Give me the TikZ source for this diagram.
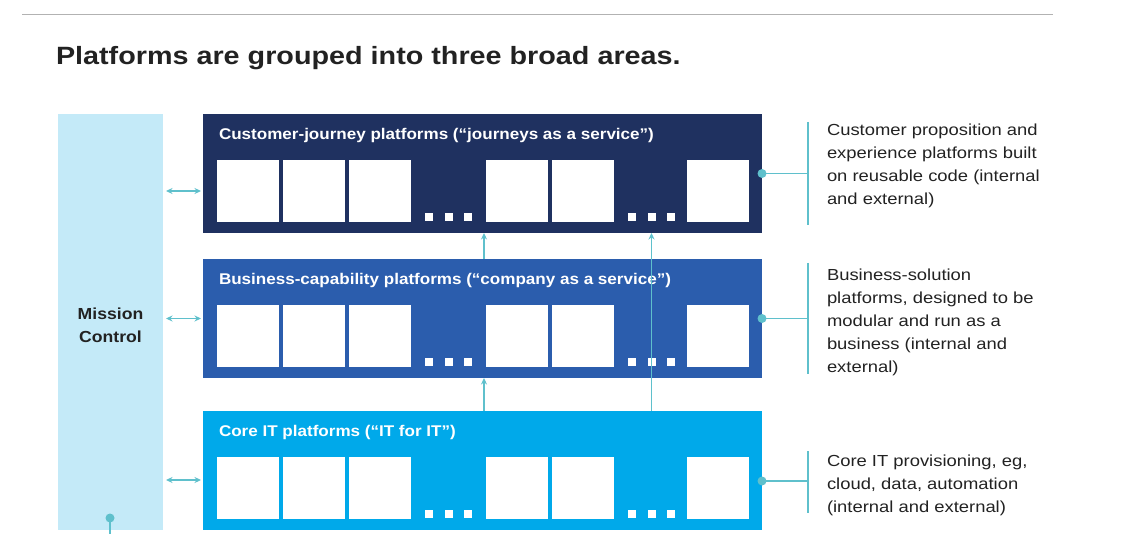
\documentclass[tikz,border=0pt]{standalone}
\usepackage{fontspec}
\setmainfont{Liberation Sans}[FakeStretch=1.15]
\newfontfamily\headfont{Liberation Sans}[FakeStretch=1.1]
\definecolor{NavyJ}{RGB}{31, 49, 96}
\definecolor{BlueB}{RGB}{43, 93, 173}
\definecolor{CyanC}{RGB}{0, 169, 234}
\definecolor{MissionBg}{RGB}{196, 234, 248}
\definecolor{Teal}{RGB}{95, 192, 204}
\definecolor{RuleGray}{RGB}{178, 178, 178}
\definecolor{TextGray}{RGB}{34, 34, 34}
\usetikzlibrary{arrows.meta, positioning}

\begin{document}
\begin{tikzpicture}[
    x=1pt, y=-1pt,
    every node/.style={inner sep=0pt, outer sep=0pt},
    layer/.style={minimum width=559pt, minimum height=119pt},
    ltitle/.style={anchor=west, text=white, font=\headfont\bfseries\fontsize{15.5}{18}\selectfont},
    slot/.style={fill=white, minimum size=62pt},
    dotsq/.style={fill=white, minimum size=8pt},
    descr/.style={anchor=north west, align=left, text=TextGray, font=\fontsize{16}{23}\selectfont},
    biarr/.style={{Stealth[length=6.5pt,width=6pt]}-{Stealth[length=6.5pt,width=6pt]}, Teal, line width=1.5pt},
    uparr/.style={-{Stealth[length=6.5pt,width=6pt]}, Teal, line width=1.5pt},
    brack/.style={Teal, line width=1.5pt}
]
\useasboundingbox (0,0) rectangle (1131,534);
\draw[RuleGray, line width=1pt] (22,15) -- (1053,15);
\node[anchor=base west, text=TextGray, font=\bfseries\fontsize{25}{30}\selectfont] (title) at (56,65) {Platforms are grouped into three broad areas.};

% mission control column
\node[fill=MissionBg, minimum width=105pt, minimum height=416pt] (mc) at (110.5,322) {};
\node[align=center, text=TextGray, font=\headfont\bfseries\fontsize{16}{23}\selectfont] (mct) at (110.5,325) {Mission\\Control};
\coordinate (mcb) at (110,534);
\fill[Teal] (110,518) circle (4.5pt);
\draw[brack] (110,518) -- (mcb);

% three layers
\node[layer, fill=NavyJ] (l1) at (482.5,173.5) {};
\node[layer, fill=BlueB] (l2) at (482.5,318.5) {};
\node[layer, fill=CyanC] (l3) at (482.5,470.5) {};
\node[ltitle] (l1t) at (219,135) {Customer-journey platforms (“journeys as a service”)};
\node[ltitle] (l2t) at (219,280) {Business-capability platforms (“company as a service”)};
\node[ltitle] (l3t) at (219,432) {Core IT platforms (“IT for IT”)};
\foreach \l/\t in {1/114, 2/259, 3/411} {
  \foreach \x [count=\i] in {248,314,380,517,583,718}
    \node[slot] (l\l b\i) at (\x,\t+77) {};
  \foreach \x [count=\i] in {429,449,468,632,651.5,671}
    \node[dotsq] (l\l d\i) at (\x,\t+103) {};
}

% links
\draw[biarr] ([xshift=3pt]mc.east |- l1b1) -- ([xshift=-2pt]l1.west |- l1b1);
\draw[biarr] ([xshift=3pt]mc.east |- l2) -- ([xshift=-2pt]l2.west);
\draw[biarr] ([xshift=3pt,yshift=-9.5pt]mc.east |- l3) -- ([xshift=-2pt,yshift=-9.5pt]l3.west);
\draw[uparr] ([xshift=-2pt]l2.north -| l1b4.west) -- ([xshift=-2pt]l1.south -| l1b4.west);
\draw[uparr] ([xshift=-2pt]l3.north -| l1b4.west) -- ([xshift=-2pt]l2.south -| l1b4.west);
\draw[uparr] (l3.north -| l1d5) -- (l1.south -| l1d5);

% descriptions on the right
\coordinate (r1) at (808,173.5);
\coordinate (r2) at (808,318.5);
\coordinate (r3) at (808,481);
\fill[Teal] (l1.east) circle (4.5pt);
\fill[Teal] (l2.east) circle (4.5pt);
\fill[Teal] ([yshift=-10.5pt]l3.east) circle (4.5pt);
\draw[brack] (l1.east) -- (r1);
\draw[brack] (l2.east) -- (r2);
\draw[brack] ([yshift=-10.5pt]l3.east) -- (r3);
\draw[brack] (808,122) -- (808,225);
\draw[brack] (808,263) -- (808,374);
\draw[brack] (808,451) -- (808,513);
\node[descr] (d1) at (827,123.5) {Customer proposition and\\experience platforms built\\on reusable code (internal\\and external)};
\node[descr] (d2) at (827,268.5) {Business-solution\\platforms, designed to be\\modular and run as a\\business (internal and\\external)};
\node[descr] (d3) at (827,454.5) {Core IT provisioning, eg,\\cloud, data, automation\\(internal and external)};
\end{tikzpicture}
\end{document}
